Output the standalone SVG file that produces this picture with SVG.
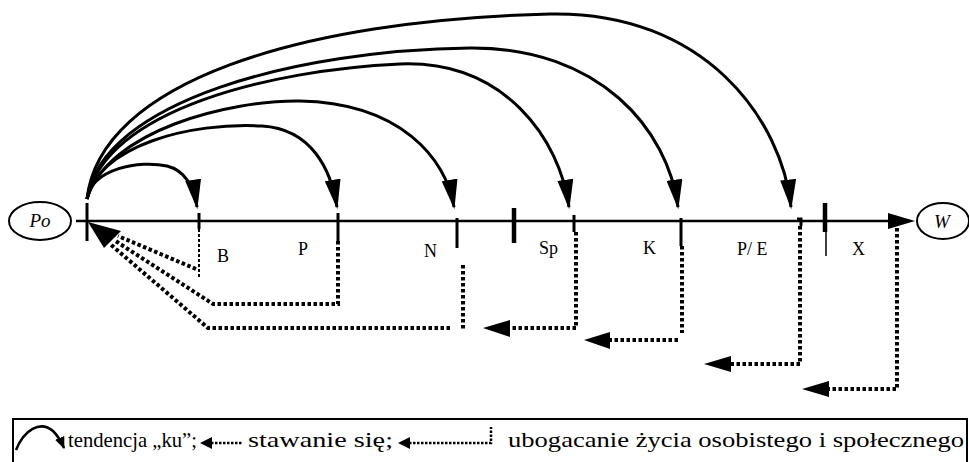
<svg xmlns="http://www.w3.org/2000/svg" width="969" height="462" viewBox="0 0 969 462">
<style>
.ax{stroke:#000;stroke-width:2.5;fill:none}
.tk{stroke:#000;stroke-width:3;fill:none}
.tkb{stroke:#000;stroke-width:4.5;fill:none}
.cv{stroke:#000;stroke-width:3;fill:none;marker-end:url(#ah)}
.dt{stroke:#000;stroke-width:4;fill:none;stroke-dasharray:3.5 2.5}
.dtt{stroke:#000;stroke-width:2;fill:none;stroke-dasharray:3 2}
.hd{fill:#000}
.lb{font-family:"Liberation Serif","DejaVu Serif",serif;font-size:18px;fill:#000}
.it{font-family:"Liberation Serif","DejaVu Serif",serif;font-size:19px;font-style:italic;fill:#000}
.lg{font-family:"Liberation Serif","DejaVu Serif",serif;font-size:22px;fill:#000}
</style>
<defs>
<marker id="ah" markerUnits="userSpaceOnUse" markerWidth="30" markerHeight="16" viewBox="0 0 26 14" refX="24" refY="7" orient="auto">
<path d="M0,0 L26,7 L0,14 z" fill="#000"/>
</marker>
<marker id="ahs" markerUnits="userSpaceOnUse" markerWidth="12" markerHeight="10" viewBox="0 0 12 10" refX="11" refY="5" orient="auto">
<path d="M0,0 L12,5 L0,10 z" fill="#000"/>
</marker>
</defs>

<g id="node-Po">
<ellipse cx="40" cy="221" rx="31" ry="19" fill="#fff" stroke="#000" stroke-width="2"/>
<text class="it" x="40" y="227" text-anchor="middle">Po</text>
</g>
<g id="node-W">
<ellipse cx="943" cy="221" rx="26" ry="18" fill="#fff" stroke="#000" stroke-width="2"/>
<text class="it" x="942" y="228" text-anchor="middle">W</text>
</g>

<g id="axis">
<line class="ax" x1="76" y1="221" x2="892" y2="221"/>
<polygon class="hd" points="888,213 915,221 888,229"/>
<line class="tk" x1="87" y1="203" x2="87" y2="241"/>
<line class="tk" x1="199" y1="213" x2="199" y2="229"/>
<line class="tk" x1="338" y1="213" x2="338" y2="241"/>
<line class="tk" x1="457" y1="218" x2="457" y2="248"/>
<line class="tkb" x1="514" y1="208" x2="514" y2="243"/>
<line class="tk" x1="574" y1="215" x2="574" y2="232"/>
<line class="tk" x1="681" y1="218" x2="681" y2="246"/>
<polyline class="tk" points="797,219 801,219 801,226"/>
<line class="tkb" x1="825" y1="203" x2="825" y2="232"/>
<line stroke="#000" stroke-width="1.5" x1="826" y1="232" x2="826" y2="256"/>
</g>

<g id="labels">
<text class="lb" x="217" y="262">B</text>
<text class="lb" x="298" y="255">P</text>
<text class="lb" x="424" y="257">N</text>
<text class="lb" x="539" y="254">Sp</text>
<text class="lb" x="643" y="254">K</text>
<text class="lb" x="737" y="255">P/ E</text>
<text class="lb" x="852" y="255">X</text>
</g>

<g id="connectors">
<path class="cv" d="M87,199 C92,168 140,160 167,166 C184,170 194,186 197,207"/>
<path class="cv" d="M87,199 C100,145 190,122 262,126 C312,129 331,170 337,207"/>
<path class="cv" d="M87,199 C108,130 230,100 300,101 C400,103 446,158 454,207"/>
<path class="cv" d="M87,199 C105,110 270,70 400,64 C505,60 560,140 569,207"/>
<path class="cv" d="M87,199 C102,100 300,50 470,48 C600,47 668,130 678,207"/>
<path class="cv" d="M87,199 C100,82 300,20 550,14 C705,11 782,120 791,207"/>

<line class="dtt" x1="199" y1="229" x2="199" y2="277"/>
<line class="dt" x1="196" y1="269" x2="118" y2="236"/>
<polyline class="dt" points="338,241 338,304 213,304 114,240"/>
<polyline class="dt" points="450,328 208,328 110,244"/>
<line class="dt" x1="463" y1="265" x2="463" y2="331"/>
<polygon class="hd" points="88,222 104,248 121,231"/>

<polyline class="dt" points="576,232 576,328 508,328"/>
<polygon class="hd" points="483,328 510,320 510,337"/>
<polyline class="dt" points="682,246 682,333"/>
<line class="dt" x1="678" y1="340" x2="608" y2="340"/>
<polygon class="hd" points="584,340 610,332 610,349"/>
<polyline class="dt" points="800,226 800,364 730,364"/>
<polygon class="hd" points="704,364 731,356 731,372"/>
<polyline class="dt" points="897,228 897,389 826,389"/>
<polygon class="hd" points="802,389 829,381 829,397"/>
</g>

<g id="legend">
<rect x="13" y="419" width="954" height="60" fill="none" stroke="#000" stroke-width="2"/>
<path d="M16,450 C24,430 40,420 53,431 C58,436 61,441 64,448" stroke="#000" stroke-width="2.5" fill="none" marker-end="url(#ahs)"/>
<text class="lg" x="68" y="447" textLength="129" lengthAdjust="spacingAndGlyphs">tendencja „ku”;</text>
<polygon class="hd" points="200,443 212,437 212,449"/>
<line stroke="#000" stroke-width="2.5" stroke-dasharray="2.5 1.5" x1="211" y1="443" x2="242" y2="443"/>
<text class="lg" x="248" y="447" textLength="145" lengthAdjust="spacingAndGlyphs">stawanie się;</text>
<polygon class="hd" points="398,443 410,437 410,449"/>
<polyline stroke="#000" stroke-width="2.5" stroke-dasharray="2.5 1.5" fill="none" points="409,443 491,443 491,427"/>
<text class="lg" x="508" y="447" textLength="456" lengthAdjust="spacingAndGlyphs">ubogacanie życia osobistego i społecznego</text>
</g>
</svg>
